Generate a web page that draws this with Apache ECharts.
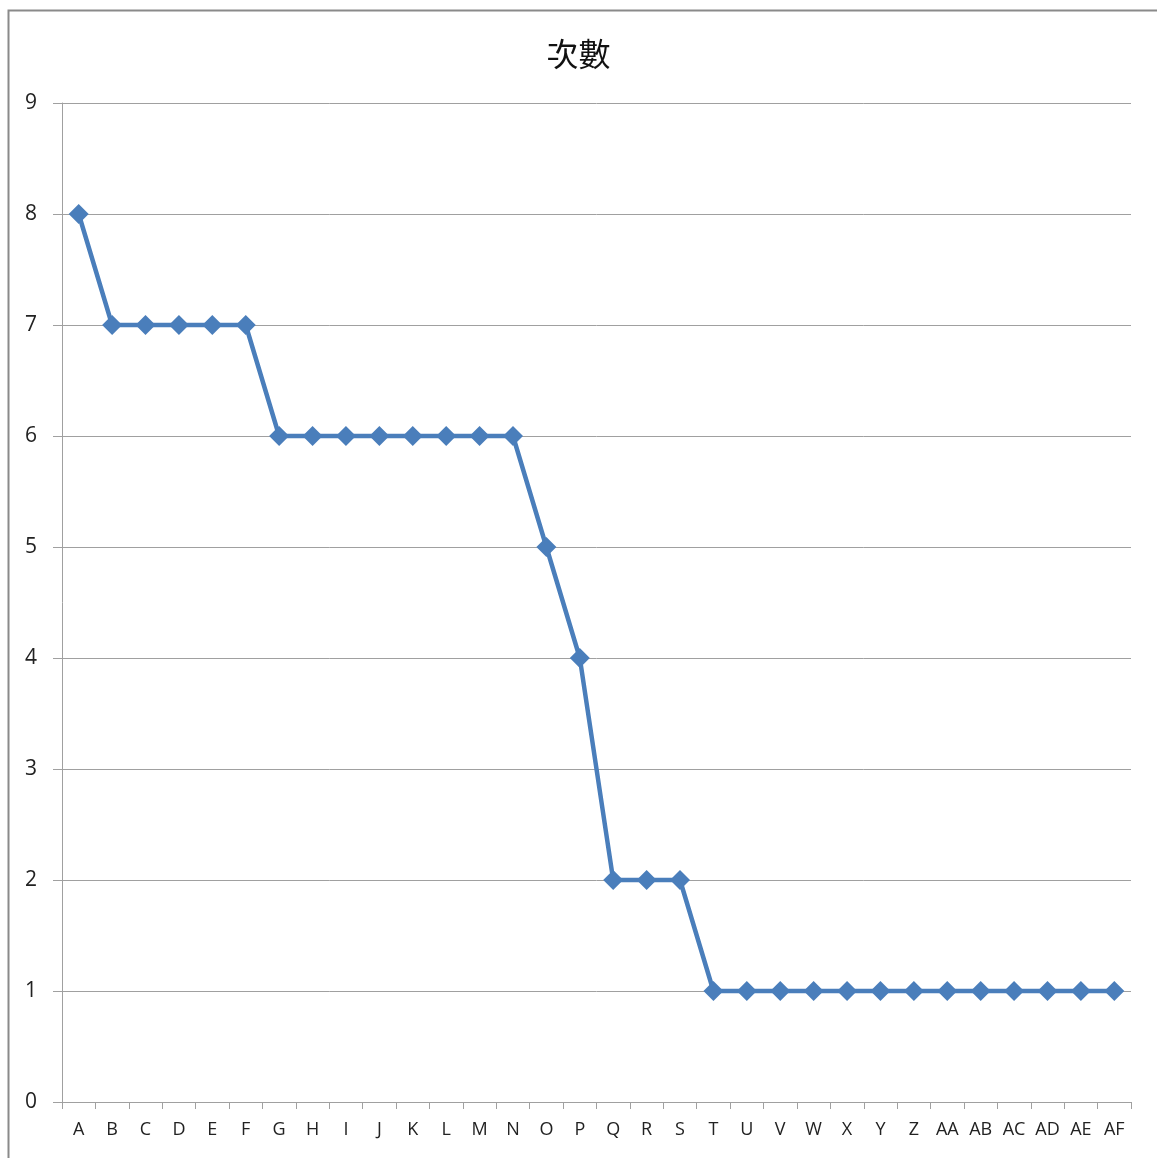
<!DOCTYPE html>
<html>
<head>
<meta charset="utf-8">
<script src="https://cdn.jsdelivr.net/npm/echarts@6/dist/echarts.min.js"></script>
<style>
  html, body { margin: 0; padding: 0; background: #fff; }
  #chart { width: 1157px; height: 1158px; }
</style>
</head>
<body>
<div id="chart"></div>
<script>
// Categories along the x axis
const categories = ['A','B','C','D','E','F','G','H','I','J','K','L','M','N','O','P',
  'Q','R','S','T','U','V','W','X','Y','Z','AA','AB','AC','AD','AE','AF'];
// Count for each category
const counts = [8,7,7,7,7,7,6,6,6,6,6,6,6,6,5,4,2,2,2,1,1,1,1,1,1,1,1,1,1,1,1,1];
// Y axis range
const yMin = 0, yMax = 9, yStep = 1;

const chart = echarts.init(document.getElementById('chart'));
const labelFont = '"Open Sans", "Liberation Sans", sans-serif';
chart.setOption({
  animation: false,
  backgroundColor: '#fff',
  graphic: [{
    type: 'rect',
    left: 6, top: 8,
    shape: { width: 1200, height: 1200 },
    style: { fill: 'none', stroke: '#8a8a8a', lineWidth: 2 },
    silent: true
  }],
  title: {
    text: '次數',
    left: 'center',
    top: 33,
    textStyle: {
      fontFamily: '"Noto Sans CJK TC", "Noto Sans CJK SC", sans-serif',
      fontSize: 32, fontWeight: 'normal', color: '#111',
      textShadowColor: 'rgba(0,0,0,0.35)', textShadowBlur: 0, textShadowOffsetX: 0.6
    }
  },
  grid: { left: 62, right: 26, top: 103, bottom: 56, containLabel: false },
  xAxis: {
    type: 'category',
    data: categories,
    boundaryGap: true,
    axisLine: { lineStyle: { color: '#a0a0a0', width: 1 } },
    axisTick: { show: true, alignWithLabel: false, length: 7, lineStyle: { color: '#a0a0a0' } },
    axisLabel: { interval: 0, margin: 19, color: '#222', fontSize: 18, fontFamily: labelFont }
  },
  yAxis: {
    type: 'value',
    min: yMin, max: yMax, interval: yStep,
    axisLine: { show: true, lineStyle: { color: '#a0a0a0', width: 1 } },
    axisTick: { show: true, length: 9, lineStyle: { color: '#a0a0a0' } },
    axisLabel: { margin: 25, color: '#222', fontSize: 21, fontFamily: labelFont },
    splitLine: { show: true, lineStyle: { color: '#a0a0a0', width: 1 } }
  },
  series: [{
    type: 'line',
    data: counts,
    symbol: 'diamond',
    symbolSize: 20,
    lineStyle: { color: '#4a7ebb', width: 4.5 },
    itemStyle: { color: '#4a7ebb' },
    z: 3
  }]
});
</script>
</body>
</html>
